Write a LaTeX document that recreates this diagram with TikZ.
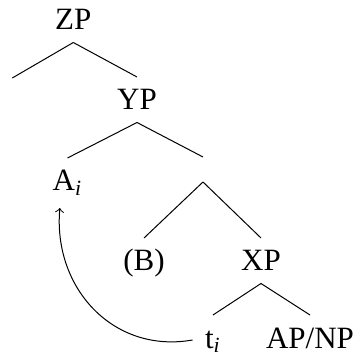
\documentclass[tikz,border=0pt]{standalone}
\usepackage{fontspec}
\setmainfont{Liberation Serif}
\begin{document}
\begin{tikzpicture}[x=4pt, y=4pt, >=to,
    cat/.style={inner sep=4.8pt, text height=8.2pt, anchor=base,
      font=\fontsize{12.4}{15}\selectfont}]
  % Syntax tree: A moves out of XP, leaving a trace
  \useasboundingbox (0,0) rectangle (35.4,35.4);

  % Categories
  \node[cat] (zp) at (7.33,32.4) {ZP};
  \node[cat] (yp) at (13.7,24.4) {YP};
  \node[cat] (a) at (6.75,16.3) {A\textsubscript{\textit{i}}};
  \node[cat, anchor=north, text height=0pt] (e) at (20.3,19.7) {};
  \node[cat] (b) at (14.4,8.3) {(B)};
  \node[cat] (xp) at (26.1,8.3) {XP};
  \node[cat] (t) at (21.3,0.6) {t\textsubscript{\textit{i}}};
  \node[cat] (ap) at (31.0,0.6) {AP/NP};
  \coordinate (zl) at (1.23,27.6);

  % Branches
  \draw (zp.south) -- (zl);
  \draw (zp.south) -- (yp.north);
  \draw (yp.south) -- (a.north);
  \draw (yp.south) -- (e.north);
  \draw (e.south) -- (b.north);
  \draw (e.south) -- (xp.north);
  \draw (xp.south) -- (t.north);
  \draw (xp.south) -- (ap.north);

  % Movement
  \draw[->] (t.west) to[out=190, in=-95, looseness=1.1] (a.253);
\end{tikzpicture}
\end{document}
